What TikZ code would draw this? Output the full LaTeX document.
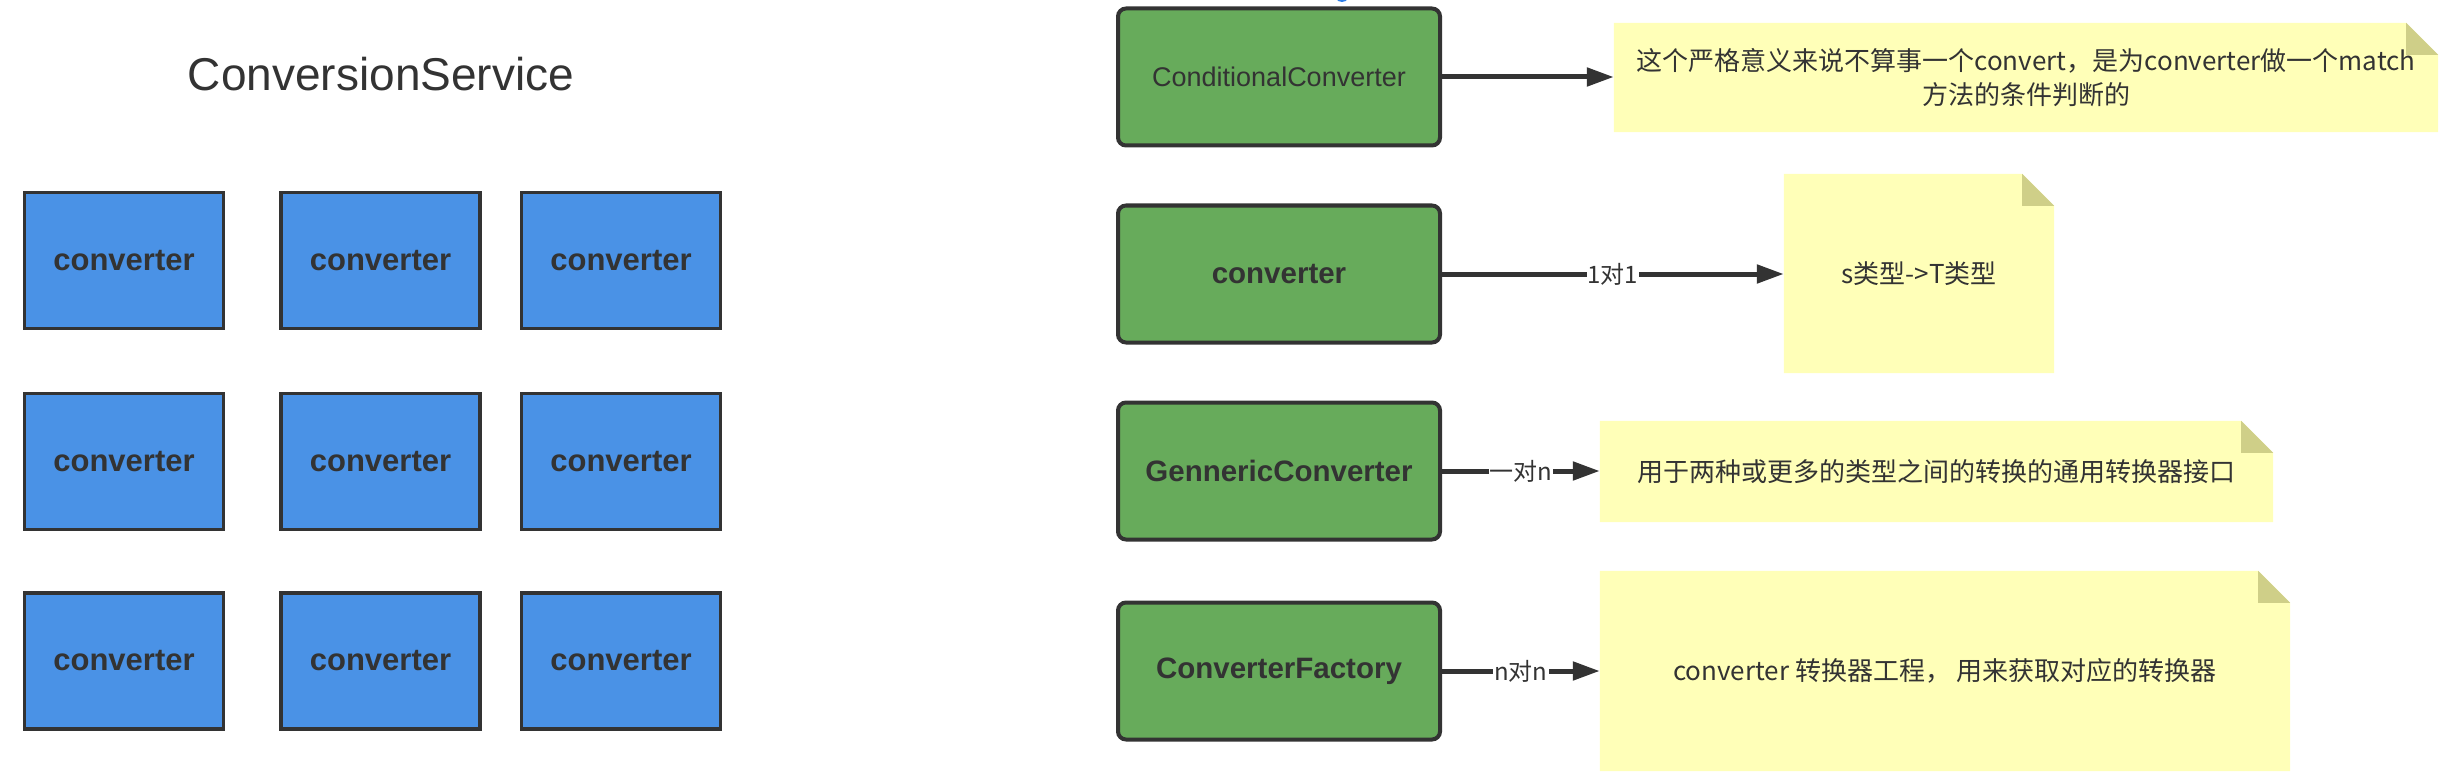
\documentclass[tikz,border=0pt]{standalone}
\usepackage{fontspec}
\setmainfont{Liberation Sans}
\newfontfamily\cjk{Noto Sans CJK SC}
\usetikzlibrary{arrows.meta,backgrounds}
\definecolor{ink}{HTML}{333333}
\definecolor{bluefill}{HTML}{4A92E6}
\definecolor{greenfill}{HTML}{67AB5B}
\definecolor{notefill}{HTML}{FFFFB8}
\definecolor{foldfill}{HTML}{CFCF88}
\definecolor{dotblue}{HTML}{2F7FE8}
\begin{document}
\begin{tikzpicture}[x=1pt,y=-1pt,
  bluebox/.style={draw=ink,line width=3.5pt,fill=bluefill,minimum width=199pt,minimum height=136pt,inner sep=0pt,text=ink,font=\fontsize{31}{36}\selectfont\bfseries},
  greenbox/.style={draw=ink,line width=4pt,fill=greenfill,rounded corners=8pt,minimum width=322pt,minimum height=137pt,inner sep=0pt,text=ink,font=\fontsize{29.5}{34}\selectfont\bfseries},
  notebox/.style={inner sep=0pt,text=ink,font=\cjk\fontsize{26}{34}\selectfont,align=center},
  conn/.style={draw=ink,line width=5pt,-{Triangle[length=27pt,width=18pt]}},
  connlabel/.style={fill=white,text=ink,font=\cjk\fontsize{24}{28}\selectfont,inner xsep=1pt,inner ysep=2pt}]
\useasboundingbox (0,0) rectangle (2456,778);

% small cut-off element at the top edge
\fill[dotblue] (1342,-1.5) ellipse [x radius=5.5pt, y radius=3.5pt];

% title
\node[text=ink,font=\fontsize{46}{52}\selectfont] (title) at (381,74) {ConversionService};

% converter grid
\foreach \c/\x in {1/124,2/380.5,3/621}{
  \foreach \r/\y in {1/260.5,2/461.5,3/661}{
    \node[bluebox] (b\r\c) at (\x,\y) {converter};
  }
}

% green boxes
\node[greenbox,font=\fontsize{27}{32}\selectfont] (g1) at (1279,77) {ConditionalConverter};
\node[greenbox] (g2) at (1279,274) {converter};
\node[greenbox] (g3) at (1279,471) {GennericConverter};
\node[greenbox] (g4) at (1279,671) {ConverterFactory};

% notes
\node[notebox,minimum width=824pt,minimum height=109pt] (n1) at (2026,77.5)
  {这个严格意义来说不算事一个convert，是为converter做一个match\\方法的条件判断的};
\node[notebox,minimum width=270pt,minimum height=199pt] (n2) at (1919,273.5) {s类型->T类型};
\node[notebox,minimum width=673pt,minimum height=101pt] (n3) at (1936.5,471.5) {用于两种或更多的类型之间的转换的通用转换器接口};
\node[notebox,minimum width=690pt,minimum height=200pt] (n4) at (1945,671) {converter 转换器工程， 用来获取对应的转换器};

\begin{scope}[on background layer]
\foreach \n in {n1,n2,n3,n4}{
  \fill[notefill] (\n.south west) -- (\n.north west) -- ([xshift=-32pt]\n.north east)
     -- ([yshift=-32pt]\n.north east) -- (\n.south east) -- cycle;
  \fill[foldfill] ([xshift=-32pt]\n.north east) -- ([xshift=-32pt,yshift=-32pt]\n.north east)
     -- ([yshift=-32pt]\n.north east) -- cycle;
}
\end{scope}

% connectors
\draw[conn] (g1.east) -- (g1.east -| n1.west);
\draw[conn] (g2.east) -- (g2.east -| n2.west) node[connlabel,pos=0.5] {1对1};
\draw[conn] (g3.east) -- (g3.east -| n3.west) node[connlabel,pos=0.5] {一对n};
\draw[conn] (g4.east) -- (g4.east -| n4.west) node[connlabel,pos=0.5] {n对n};
\end{tikzpicture}
\end{document}
